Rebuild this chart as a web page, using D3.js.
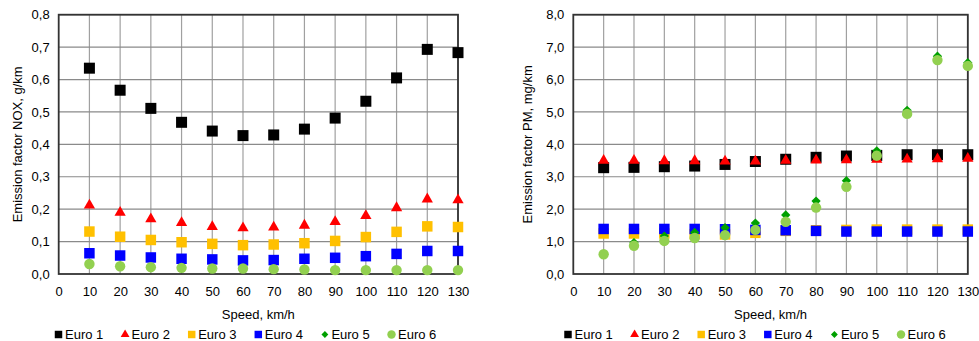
<!DOCTYPE html>
<html><head><meta charset="utf-8">
<script src="https://cdn.jsdelivr.net/npm/d3@7"></script>
<style>body{margin:0;background:#fff}svg{display:block}text{font-family:"Liberation Sans",Arial,sans-serif;fill:#000}</style>
</head><body>
<svg id="c" width="979" height="341"></svg>
<script>
const speeds = [10,20,30,40,50,60,70,80,90,100,110,120,130];
const seriesNames = ["Euro 1","Euro 2","Euro 3","Euro 4","Euro 5","Euro 6"];
const xTicks = [0,10,20,30,40,50,60,70,80,90,100,110,120,130];
const noxTicks = [0,0.1,0.2,0.3,0.4,0.5,0.6,0.7,0.8];
const pmTicks = [0,1,2,3,4,5,6,7,8];

const noxEuro1 = [0.635,0.567,0.511,0.468,0.441,0.427,0.429,0.447,0.481,0.533,0.605,0.693,0.683];
const noxEuro2 = [0.212,0.190,0.170,0.158,0.146,0.142,0.144,0.150,0.161,0.180,0.204,0.231,0.228];
const noxEuro3 = [0.131,0.115,0.105,0.098,0.093,0.089,0.091,0.095,0.102,0.114,0.130,0.147,0.145];
const noxEuro4 = [0.064,0.057,0.051,0.047,0.045,0.042,0.043,0.047,0.050,0.055,0.062,0.071,0.071];
const noxEuro5 = [0.030,0.023,0.020,0.018,0.016,0.016,0.014,0.013,0.012,0.012,0.011,0.011,0.011];
const noxEuro6 = [0.031,0.024,0.021,0.019,0.017,0.017,0.015,0.014,0.012,0.012,0.012,0.012,0.012];

const pmEuro1 = [3.28,3.29,3.31,3.33,3.38,3.47,3.54,3.60,3.64,3.66,3.68,3.68,3.68];
const pmEuro2 = [3.50,3.50,3.49,3.49,3.48,3.48,3.50,3.51,3.52,3.53,3.54,3.55,3.56];
const pmEuro3 = [1.25,1.25,1.25,1.23,1.22,1.27,1.33,1.35,1.36,1.37,1.37,1.37,1.37];
const pmEuro4 = [1.39,1.39,1.39,1.39,1.38,1.36,1.35,1.33,1.31,1.31,1.31,1.31,1.31];
const pmEuro5 = [0.62,0.97,1.17,1.28,1.43,1.57,1.82,2.25,2.88,3.80,5.05,6.72,6.52];
const pmEuro6 = [0.61,0.87,1.02,1.11,1.20,1.36,1.61,2.05,2.69,3.65,4.94,6.60,6.42];

const styles = [
  {sym:d3.symbolSquare, size:121, color:"#000000", lsize:56},
  {sym:d3.symbolTriangle, size:55, color:"#FF0000", lsize:34},
  {sym:d3.symbolSquare, size:110, color:"#FFC000", lsize:56},
  {sym:d3.symbolSquare, size:110, color:"#0000FF", lsize:56},
  {sym:d3.symbolDiamond2, size:55, color:"#00A000", lsize:30},
  {sym:d3.symbolCircle, size:85, color:"#92D050", lsize:56}
];

const svg = d3.select("#c");
const fmt = d => d.toFixed(1).replace(".", ",");

function chart(cfg){
  const x = d3.scaleLinear().domain([0,130]).range([cfg.x0, cfg.x1]);
  const y = d3.scaleLinear().domain([0, cfg.ymax]).range([274, 14.7]);
  const g = svg.append("g");
  g.append("g").selectAll("line").data(xTicks.slice(1)).join("line")
    .attr("x1", d=>x(d)).attr("x2", d=>x(d)).attr("y1", y(0)).attr("y2", y(cfg.ymax))
    .attr("stroke","#a0a0a0").attr("stroke-width",1.2);
  g.append("g").selectAll("line").data(cfg.yTicks.slice(1)).join("line")
    .attr("x1", x(0)).attr("x2", x(130)).attr("y1", d=>y(d)).attr("y2", d=>y(d))
    .attr("stroke","#8a8a8a").attr("stroke-width",1.2);
  g.append("rect").attr("x", x(0)).attr("y", y(cfg.ymax)).attr("width", x(130)-x(0)).attr("height", y(0)-y(cfg.ymax))
    .attr("fill","none").attr("stroke","#333").attr("stroke-width",1.8);
  const xa = g.append("g").attr("transform",`translate(0,${y(0)})`)
    .call(d3.axisBottom(x).tickValues(xTicks).tickSize(0).tickPadding(13).tickFormat(d=>String(d)));
  xa.select(".domain").remove();
  xa.selectAll("text").attr("font-size",13).attr("font-family","Liberation Sans, Arial, sans-serif").attr("fill","#000");
  const ya = g.append("g").attr("transform",`translate(${x(0)},0)`)
    .call(d3.axisLeft(y).tickValues(cfg.yTicks).tickSize(0).tickPadding(9).tickFormat(fmt));
  ya.select(".domain").remove();
  ya.selectAll("text").attr("font-size",13).attr("font-family","Liberation Sans, Arial, sans-serif").attr("fill","#000");
  g.append("text").attr("x",(x(0)+x(130))/2).attr("y",318.5).attr("text-anchor","middle").attr("font-size",13).text("Speed, km/h");
  g.append("text").attr("transform",`translate(${cfg.ytx},${(y(0)+y(cfg.ymax))/2}) rotate(-90)`)
    .attr("dy","0.35em").attr("text-anchor","middle").attr("font-size",13).text(cfg.ytitle);
  cfg.series.forEach((vals,i)=>{
    const st = styles[i];
    g.append("g").selectAll("path").data(vals).join("path")
      .attr("d", d3.symbol().type(st.sym).size(st.size))
      .attr("transform",(d,j)=>`translate(${x(speeds[j])},${y(d)})`)
      .attr("fill", st.color);
  });
  seriesNames.forEach((n,i)=>{
    const st = styles[i];
    const lx = cfg.legX + i*66.6;
    g.append("path").attr("d", d3.symbol().type(st.sym).size(st.lsize)())
      .attr("transform",`translate(${lx},334.5)`).attr("fill", st.color);
    g.append("text").attr("x", lx+6.5).attr("y",339).attr("font-size",13).text(n);
  });
}

chart({x0:58.7, x1:458, ymax:0.8, yTicks:noxTicks, ytx:17, ytitle:"Emission factor NOX, g/km",
  series:[noxEuro1,noxEuro2,noxEuro3,noxEuro4,noxEuro5,noxEuro6], legX:58.5});
chart({x0:573.3, x1:967.8, ymax:8, yTicks:pmTicks, ytx:527, ytitle:"Emission factor PM, mg/km",
  series:[pmEuro1,pmEuro2,pmEuro3,pmEuro4,pmEuro5,pmEuro6], legX:568});
</script>
</body></html>
